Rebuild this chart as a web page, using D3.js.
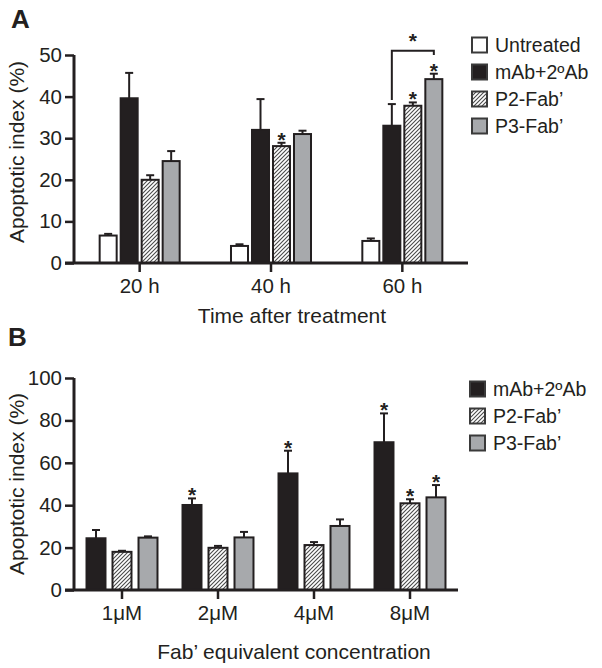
<!DOCTYPE html>
<html>
<head>
<meta charset="utf-8">
<script src="https://cdn.jsdelivr.net/npm/d3@7/dist/d3.min.js"></script>
<style>
  body { margin: 0; background: #fff; }
  svg { display: block; }
  text { font-family: "Liberation Sans", Arial, Helvetica, sans-serif; fill: #231f20; }
</style>
</head>
<body>
<svg id="chart" width="602" height="668"></svg>
<script>
// ---------- Panel A data ----------
const groupsA = ["20 h", "40 h", "60 h"];
const seriesA = ["Untreated", "mAb+2ºAb", "P2-Fab’", "P3-Fab’"];
const untreatedA = [6.6, 4.1, 5.3];
const untreatedErrA = [0.4, 0.4, 0.6];
const mAbA = [39.6, 32.0, 33.0];
const mAbErrA = [6.1, 7.4, 5.2];
const p2A = [20.0, 28.1, 37.8];
const p2ErrA = [1.1, 0.8, 0.8];
const p3A = [24.5, 31.0, 44.2];
const p3ErrA = [2.4, 0.8, 1.3];
const starsA = [[1, 2], [2, 2], [2, 3]]; // [group, series]
const ticksA = [0, 10, 20, 30, 40, 50];

// ---------- Panel B data ----------
const groupsB = ["1μM", "2μM", "4μM", "8μM"];
const seriesB = ["mAb+2ºAb", "P2-Fab’", "P3-Fab’"];
const mAbB = [24.4, 40.1, 55.0, 69.7];
const mAbErrB = [3.9, 3.1, 10.7, 13.6];
const p2B = [18.0, 19.9, 21.2, 40.9];
const p2ErrB = [0.5, 0.9, 1.4, 1.9];
const p3B = [24.7, 24.8, 30.2, 43.7];
const p3ErrB = [0.6, 2.6, 3.1, 5.8];
const starsB = [[1, 0], [2, 0], [3, 0], [3, 1], [3, 2]];
const ticksB = [0, 20, 40, 60, 80, 100];

const INK = "#231f20";
const GRAY = "#a7a9ac";

const svg = d3.select("#chart");

// hatch pattern
const defs = svg.append("defs");
const pat = defs.append("pattern")
  .attr("id", "hatch").attr("patternUnits", "userSpaceOnUse")
  .attr("width", 4).attr("height", 4);
pat.append("rect").attr("width", 4).attr("height", 4).attr("fill", "#fff");
pat.append("path").attr("d", "M-1,1 l2,-2 M0,4 l4,-4 M3,5 l2,-2")
  .attr("stroke", "#4a4a4a").attr("stroke-width", 1.1);

const fills = {
  "Untreated": "#fff",
  "mAb+2ºAb": INK,
  "P2-Fab’": "url(#hatch)",
  "P3-Fab’": GRAY
};

function drawPanel(cfg) {
  const g = svg.append("g");
  const x = d3.scaleBand().domain(cfg.groups).range([cfg.x0, cfg.x1]).padding(0);
  const xi = d3.scaleBand().domain(cfg.series)
    .range([-cfg.inner, cfg.inner]).paddingInner(cfg.pad).paddingOuter(cfg.pad / 2);
  const y = d3.scaleLinear().domain(cfg.domain).range([cfg.y0, cfg.y1]);

  // bars
  cfg.series.forEach((s, si) => {
    const vals = cfg.values[si], errs = cfg.errs[si];
    cfg.groups.forEach((gname, gi) => {
      const cx = x(gname) + x.bandwidth() / 2 + xi(s);
      const bw = xi.bandwidth();
      g.append("rect")
        .attr("x", cx).attr("y", y(vals[gi]))
        .attr("width", bw).attr("height", y(0) - y(vals[gi]))
        .attr("fill", fills[s]).attr("stroke", INK).attr("stroke-width", 2);
      const mid = cx + bw / 2;
      const top = y(vals[gi] + errs[gi]);
      g.append("line").attr("x1", mid).attr("x2", mid)
        .attr("y1", y(vals[gi])).attr("y2", top)
        .attr("stroke", INK).attr("stroke-width", 2);
      g.append("line").attr("x1", mid - 4).attr("x2", mid + 4)
        .attr("y1", top).attr("y2", top)
        .attr("stroke", INK).attr("stroke-width", 2);
    });
  });

  // stars
  cfg.stars.forEach(([gi, si]) => {
    const s = cfg.series[si];
    const cx = x(cfg.groups[gi]) + x.bandwidth() / 2 + xi(s) + xi.bandwidth() / 2;
    const top = y(cfg.values[si][gi] + cfg.errs[si][gi]);
    g.append("text").attr("x", cx).attr("y", top + 4)
      .attr("text-anchor", "middle").attr("font-size", 21).attr("font-weight", "bold")
      .text("*");
  });

  // y axis
  const yAxis = g.append("g").attr("transform", `translate(${cfg.x0},0)`)
    .call(d3.axisLeft(y).tickValues(cfg.ticks).tickSize(9).tickPadding(3));
  yAxis.select(".domain").attr("stroke", INK).attr("stroke-width", 3)
    .attr("d", `M0,${y(cfg.domain[1])}V${y(0)}`);
  yAxis.selectAll(".tick line").attr("stroke", INK).attr("stroke-width", 2.5);
  yAxis.selectAll(".tick text").attr("font-size", 20.5).attr("fill", INK)
    .attr("font-family", '"Liberation Sans", Arial, sans-serif');

  // x axis
  const xAxis = g.append("g").attr("transform", `translate(0,${y(0)})`)
    .call(d3.axisBottom(x).tickSize(9).tickPadding(6));
  xAxis.select(".domain").attr("stroke", INK).attr("stroke-width", 3)
    .attr("d", `M${cfg.x0 - 9},0H${cfg.x1}`);
  xAxis.selectAll(".tick line").attr("stroke", INK).attr("stroke-width", 2.5);
  xAxis.selectAll(".tick text").attr("font-size", 20.5).attr("fill", INK)
    .attr("dy", "0.71em")
    .attr("font-family", '"Liberation Sans", Arial, sans-serif');

  // titles
  g.append("text")
    .attr("transform", `translate(${cfg.yTitleX},${(cfg.y0 + cfg.y1) / 2 + cfg.yTitleShift}) rotate(-90)`)
    .attr("text-anchor", "middle").attr("font-size", 21).text("Apoptotic index (%)");
  g.append("text").attr("x", cfg.xTitleX).attr("y", cfg.xTitleY)
    .attr("text-anchor", "middle").attr("font-size", 21).text(cfg.xTitle);
  g.append("text").attr("x", cfg.labelX).attr("y", cfg.labelY)
    .attr("font-size", 26).attr("font-weight", "bold").text(cfg.label);

  // legend
  const leg = g.append("g");
  cfg.series.forEach((s, i) => {
    const cy = cfg.legY + i * cfg.legStep;
    leg.append("rect").attr("x", cfg.legX).attr("y", cy - 7.5)
      .attr("width", 15).attr("height", 15)
      .attr("fill", fills[s]).attr("stroke", "#3a3a3a").attr("stroke-width", 2);
    leg.append("text").attr("x", cfg.legX + 23).attr("y", cy + 7)
      .attr("font-size", 19.5).text(s);
  });

  return { x, xi, y, g };
}

const A = drawPanel({
  groups: groupsA, series: seriesA,
  values: [untreatedA, mAbA, p2A, p3A],
  errs: [untreatedErrA, mAbErrA, p2ErrA, p3ErrA],
  stars: starsA, ticks: ticksA, domain: [0, 50],
  x0: 74, x1: 468, y0: 263, y1: 55, inner: 42, pad: 0.19,
  yTitleX: 24, yTitleShift: -7, xTitle: "Time after treatment", xTitleX: 292, xTitleY: 323,
  label: "A", labelX: 11, labelY: 28,
  legX: 472, legY: 45, legStep: 27
});

// significance bracket in panel A (mAb vs P3 at 60 h)
(function () {
  const { x, xi, y, g } = A;
  const gc = x("60 h") + x.bandwidth() / 2;
  const xl = gc + xi("mAb+2ºAb") + xi.bandwidth() / 2;
  const xr = gc + xi("P3-Fab’") + xi.bandwidth() / 2;
  const yb = y(51.0);
  const yl = y(mAbA[2] + mAbErrA[2] + 1.0);
  const yr = y(p3A[2] + p3ErrA[2] + 4.5);
  g.append("path").attr("d", `M${xl},${yl}V${yb}H${xr}V${yr}`)
    .attr("fill", "none").attr("stroke", INK).attr("stroke-width", 2);
  g.append("text").attr("x", (xl + xr) / 2).attr("y", yb - 3)
    .attr("text-anchor", "middle").attr("font-size", 21).attr("font-weight", "bold").text("*");
})();

drawPanel({
  groups: groupsB, series: seriesB,
  values: [mAbB, p2B, p3B],
  errs: [mAbErrB, p2ErrB, p3ErrB],
  stars: starsB, ticks: ticksB, domain: [0, 100],
  x0: 74, x1: 458, y0: 590, y1: 378, inner: 39, pad: 0.27,
  yTitleX: 24, yTitleShift: 0, xTitle: "Fab’ equivalent concentration", xTitleX: 294, xTitleY: 659,
  label: "B", labelX: 8, labelY: 346,
  legX: 470, legY: 389, legStep: 27
});
</script>
</body>
</html>
